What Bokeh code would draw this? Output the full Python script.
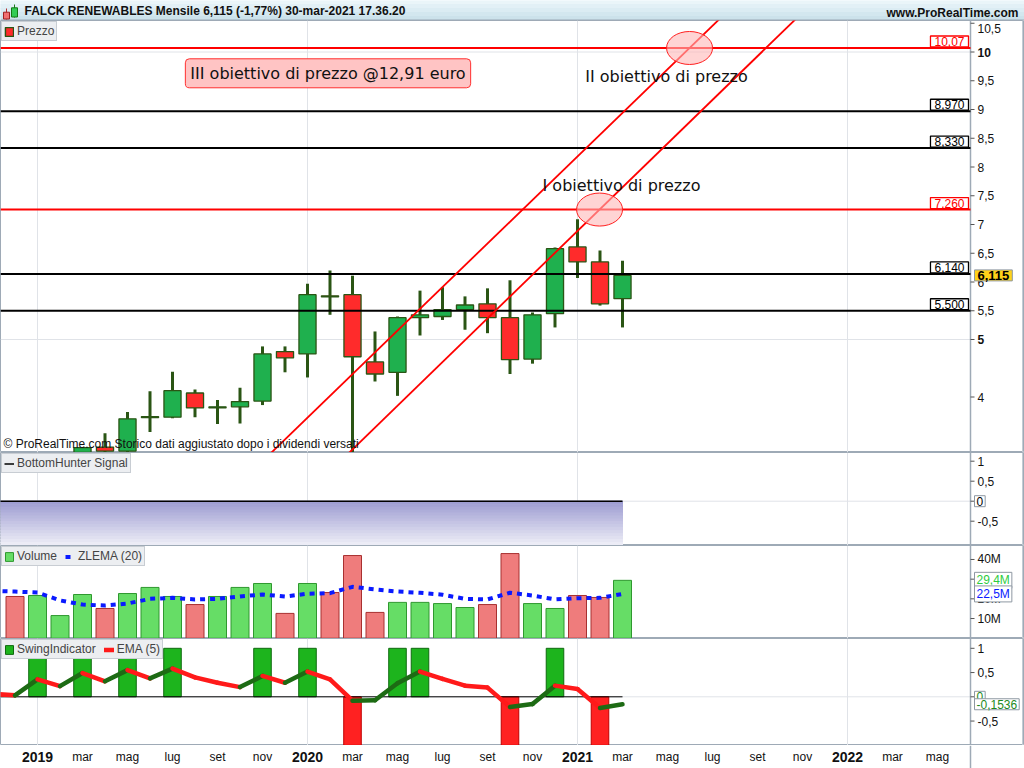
import numpy as np
from bokeh.plotting import figure
from bokeh.layouts import column
from bokeh.models import Range1d, FixedTicker, Label, Legend, LegendItem, Grid
from bokeh.embed import file_html
from bokeh.resources import INLINE
from bokeh.core.properties import value

nan = float("nan")

# ---------------------------------------------------------------- data
# monthly bars; month index 0 = gen 2019, first bar = dic 2018
months = list(range(-1, 27))

price_open = [nan, nan, nan, 3.00, 3.13, 3.06, 3.64, 3.65, 4.07, 3.81, 3.83, 3.93, 4.79, 4.75,
              5.76, 5.78, 4.61, 4.43, 5.38, 5.40, 5.52, 5.62, 5.38, 4.66, 5.45, 6.61, 6.35, 5.71]
price_high = [nan, nan, nan, 3.13, 3.37, 3.74, 4.10, 4.44, 4.13, 3.95, 4.16, 4.88, 4.88, 5.97,
              6.20, 6.11, 5.14, 5.40, 5.85, 5.91, 5.75, 5.89, 6.03, 5.47, 6.60, 7.09, 6.55, 6.37]
price_low = [nan, nan, nan, 2.95, 2.98, 3.00, 3.39, 3.63, 3.65, 3.53, 3.54, 3.86, 4.43, 4.34,
             5.43, 3.02, 4.27, 4.02, 5.07, 5.34, 5.17, 5.11, 4.40, 4.58, 5.21, 6.07, 5.59, 5.21]
price_close = [nan, nan, nan, 3.12, 3.06, 3.62, 3.66, 4.11, 3.81, 3.83, 3.92, 4.75, 4.68, 5.78,
               5.74, 4.70, 4.40, 5.38, 5.43, 5.52, 5.60, 5.38, 4.65, 5.43, 6.58, 6.35, 5.62, 6.115]

volume_m = [21.2, 21.7, 11.5, 22.2, 15.1, 22.7, 25.8, 21.2, 17.1, 21.2, 25.8, 27.8, 12.6, 27.8,
            23.2, 42.0, 13.1, 18.2, 18.2, 17.6, 15.6, 17.1, 43.0, 17.6, 15.1, 21.7, 20.7, 29.4]
volume_dir = ["d", "u", "u", "u", "d", "u", "u", "u", "d", "u", "u", "u", "d", "u",
              "d", "d", "d", "u", "u", "u", "u", "d", "d", "u", "u", "d", "d", "u"]

swing = [0, 1, 0, 1, 0, 1, 0, 1, 0, 0, 0, 1, 0, 1,
         0, -1, 0, 1, 1, 0, 0, 0, -1, 0, 1, 0, -1, 0]

# indicator lines start one month earlier (nov 2018)
ind_months = list(range(-2, 27))
zlema_m = [24.0, 23.7, 23.2, 19.2, 17.1, 16.6, 17.6, 20.0, 20.5, 19.7, 20.0, 21.2, 22.2, 21.2, 22.6,
           22.9, 26.1, 24.8, 23.7, 23.1, 22.1, 20.0, 19.7, 23.1, 21.7, 19.7, 20.3, 20.5, 22.5]
ema5 = [0.06, 0.03, 0.36, 0.22, 0.49, 0.32, 0.55, 0.38, 0.58, 0.40, 0.29, 0.20, 0.43, 0.29, 0.52,
        0.36, -0.08, -0.07, 0.28, 0.52, 0.37, 0.23, 0.19, -0.21, -0.15, 0.23, 0.16, -0.23, -0.1536]
bottomhunter = [0, 0, 0, 0, 0, 0, 0, 0, 0, 0, 0, 0, 0, 0, 0,
                0, 0, 0, 0, 0, 0, 0, 0, 0, 0, 0, 0, 0, 0]

levels = [10.07, 8.97, 8.33, 7.26, 6.14, 5.50]
level_text = ["10,07", "8,970", "8,330", "7,260", "6,140", "5,500"]
level_color = ["#ff0000", "#000000", "#000000", "#ff0000", "#000000", "#000000"]

# trend channel: two points on each line (month, price)
trend_upper = ([10.44, 28.98], [3.05, 10.07])
trend_lower = ([13.90, 24.98], [3.05, 7.26])
targets_m = [24.98, 28.98]
targets_p = [7.26, 10.07]

x_tick_months = list(range(0, 41, 2))
x_tick_names = ["2019", "mar", "mag", "lug", "set", "nov",
                "2020", "mar", "mag", "lug", "set", "nov",
                "2021", "mar", "mag", "lug", "set", "nov",
                "2022", "mar", "mag"]

# ---------------------------------------------------------------- layout helpers
PX_MONTH = 22.5
X_START = -37 / PX_MONTH


def xpx(px):
    """x position (in months) of a horizontal pixel offset from the left edge"""
    return X_START + px / PX_MONTH


XA = xpx(970)            # price-scale axis line
xr = Range1d(X_START, xpx(1024))

FRAME = "#9eaab6"
GRID = "#e0e3e8"
UI_FONT = "Liberation Sans"


def panel(height, y0, y1, ticks, labels, ygrid, bold=(), label_y=None):
    f = figure(width=1024, height=height, x_range=xr, y_range=Range1d(y0, y1),
               output_backend="svg", toolbar_location=None,
               x_axis_type=None, y_axis_type=None, min_border=0)
    f.outline_line_color = FRAME
    f.outline_line_width = 1
    f.border_fill_color = "white"
    f.background_fill_color = "white"
    f.add_layout(Grid(dimension=0, ticker=FixedTicker(ticks=[0, 12, 24, 36]),
                      grid_line_color=GRID))
    if ygrid:
        f.segment(x0=X_START, x1=XA, y0=ygrid, y1=ygrid, line_color=GRID, line_width=1)
    # price scale on the right
    f.segment(x0=XA, y0=y0, x1=XA, y1=y1, line_color=FRAME, line_width=1.5)
    f.segment(x0=xpx(1022), y0=y0, x1=xpx(1022), y1=y1, line_color="#c3cbd3", line_width=1)
    f.segment(x0=XA, x1=xpx(974), y0=ticks, y1=ticks, line_color="#555555", line_width=1)
    f.text(x=xpx(977), y=label_y if label_y is not None else ticks, text=labels,
           text_font=value(UI_FONT), text_font_size="12px", text_baseline="middle",
           text_align="left", text_color="#111111",
           text_font_style=["bold" if t in bold else "normal" for t in ticks])
    return f


def legend(items, fig):
    lg = Legend(items=items, location="top_left", orientation="horizontal")
    lg.margin = 1
    lg.padding = 2
    lg.spacing = 8
    lg.label_text_font = UI_FONT
    lg.label_text_font_size = "12px"
    lg.label_height = 12
    lg.glyph_height = 11
    lg.glyph_width = 10
    lg.label_standoff = 3
    lg.border_line_color = "#a3acb5"
    lg.background_fill_color = "#eceef1"
    lg.background_fill_alpha = 1
    fig.add_layout(lg)


def tag(fig, y, text, color="#000000", fill="white", bold=False, size="12px", pad=(2, 1)):
    fig.add_layout(Label(x=xpx(974), y=y, text=text, text_align="left",
                         text_baseline="middle", text_font=UI_FONT, text_font_size=size,
                         text_color=color, text_font_style="bold" if bold else "normal",
                         background_fill_color=fill, border_line_color="#8e98a2",
                         padding=pad))


# ---------------------------------------------------------------- header
hdr = figure(width=1024, height=20, x_range=Range1d(0, 1024), y_range=Range1d(20, 0),
             output_backend="svg", toolbar_location=None, x_axis_type=None, y_axis_type=None,
             min_border=0)
hdr.outline_line_color = None
hdr.border_fill_color = "white"
bands = np.linspace(0, 20, 6)
band_cols = ["#eaf5f9", "#e2f0f6", "#dbecf3", "#d3e7ef", "#cce2eb"]
hdr.quad(left=0, right=1024, top=bands[:-1], bottom=bands[1:], fill_color=band_cols,
         line_color=band_cols)
hdr.segment(0, 19.5, 1024, 19.5, line_color="#9aa8b4", line_width=1)
hdr.segment([6, 14], [8, 4], [6, 14], [19, 17], line_color=["#b03030", "#1d7a1d"], line_width=1)
hdr.quad(left=[3, 11], right=[9, 17], top=[11.7, 7.3], bottom=[18.5, 16.5],
         fill_color=["#f07070", "#33cc55"], line_color=["#a02020", "#137a13"])
hdr.text(x=[24], y=[10.5], text=["FALCK RENEWABLES Mensile 6,115 (-1,77%) 30-mar-2021 17.36.20"],
         text_font=value(UI_FONT), text_font_style="bold", text_font_size="12px",
         text_baseline="middle", text_color="#111111")
hdr.text(x=[1018], y=[12.5], text=["www.ProRealTime.com"], text_font=value(UI_FONT),
         text_font_style="bold", text_font_size="12px", text_baseline="middle",
         text_align="right", text_color="#111111")

# ---------------------------------------------------------------- price panel
P_Y0, P_Y1 = 3.035, 10.548
p_ticks = [4, 5, 5.5, 6, 6.5, 7, 7.5, 8, 8.5, 9, 9.5, 10, 10.5]
p_labels = ["4", "5", "5,5", "6", "6,5", "7", "7,5", "8", "8,5", "9", "9,5", "10", "10,5"]
p_label_y = p_ticks[:-1] + [p_ticks[-1] - 5 / 57.5]
pp = panel(432, P_Y0, P_Y1, p_ticks, p_labels, [5, 10], bold=(5, 10), label_y=p_label_y)

up = [i for i, (o, c) in enumerate(zip(price_open, price_close)) if c == c and c >= o]
dn = [i for i, (o, c) in enumerate(zip(price_open, price_close)) if c == c and c < o]
WICK = "#2a5514"
pp.segment(x0=months, y0=price_low, x1=months, y1=price_high, line_color=WICK, line_width=3)
r_up = pp.vbar(x=[months[i] for i in up], width=0.76,
               top=[price_close[i] for i in up], bottom=[price_open[i] for i in up],
               fill_color="#1fb04e", line_color=WICK, line_width=1.3)
r_dn = pp.vbar(x=[months[i] for i in dn], width=0.76,
               top=[price_open[i] for i in dn], bottom=[price_close[i] for i in dn],
               fill_color="#ff2b2b", line_color=WICK, line_width=1.3)

pp.segment(x0=X_START, x1=XA, y0=levels, y1=levels, line_color=level_color, line_width=2)

for xs, ys in (trend_upper, trend_lower):
    slope = (ys[1] - ys[0]) / (xs[1] - xs[0])
    ext = [xs[0] - 3, 40]
    pp.line(ext, [ys[0] + slope * (e - xs[0]) for e in ext], line_color="#ff0000", line_width=1.8)

pp.ellipse(x=targets_m, y=targets_p, width=46, height=33, width_units="screen",
           height_units="screen", fill_color="#ffb8b8", fill_alpha=0.6, line_color="#ff2020",
           line_width=1)

for lv, txt, col in zip(levels, level_text, level_color):
    pp.add_layout(Label(x=xpx(968), y=lv, y_offset=1, text=txt, text_align="right",
                        text_baseline="bottom", text_font=UI_FONT, text_font_size="12px",
                        text_color=col, background_fill_color="white", border_line_color=col,
                        border_line_width=1.3, padding=(4, 1)))

pp.add_layout(Label(x=xpx(621), y=7.68, text="I obiettivo di prezzo",
                    text_align="center", text_baseline="middle", text_font="DejaVu Sans",
                    text_font_size="16px", text_color="#111111"))
pp.add_layout(Label(x=xpx(666), y=9.574, text="II obiettivo di prezzo",
                    text_align="center", text_baseline="middle", text_font="DejaVu Sans",
                    text_font_size="16px", text_color="#111111"))
pp.add_layout(Label(x=xpx(327.5), y=9.63, text="III obiettivo di prezzo @12,91 euro",
                    text_align="center", text_baseline="middle", text_font="DejaVu Sans",
                    text_font_size="16px", text_color="#111111",
                    background_fill_color="#ffc4c4", border_line_color="#ff3030",
                    border_radius=4, padding=(5, 5)))
pp.add_layout(Label(x=xpx(3), y=P_Y0 + 2 / 57.5,
                    text="\u00a9 ProRealTime.com  Storico dati aggiustato dopo i dividendi versati",
                    text_align="left", text_baseline="bottom", text_font=UI_FONT,
                    text_font_size="12px", text_color="#111111"))
tag(pp, price_close[-1], "6,115", fill="#ffd21a", bold=True, size="13px", pad=(3, 1))
legend([LegendItem(label="Prezzo", renderers=[r_up, r_dn])], pp)

# ---------------------------------------------------------------- BottomHunter panel
B_Y0, B_Y1 = -1.1075, 1.2175
bh = panel(93, B_Y0, B_Y1, [-0.5, 0, 0.5, 1], ["-0,5", "0", "0,5", "1"], [0])
edges = np.linspace(0, B_Y0, 16)
c_top, c_bot = np.array([158, 157, 210]), np.array([236, 236, 246])
band_fill = ["#%02x%02x%02x" % tuple(int(v) for v in c_top + (c_bot - c_top) * i / 14)
             for i in range(15)]
bh.quad(left=ind_months[0], right=ind_months[-1], top=edges[:-1], bottom=edges[1:],
        fill_color=band_fill, line_color=band_fill, line_width=1)
r_bh = bh.line(ind_months, bottomhunter, line_color="black", line_width=1.5)
tag(bh, 0, "0")
legend([LegendItem(label="BottomHunter Signal", renderers=[r_bh])], bh)

# ---------------------------------------------------------------- Volume panel
V_Y0, V_Y1 = -0.15, 47.1
vp = panel(93, V_Y0, V_Y1, [10, 20, 30, 40], ["10M", "20M", "30M", "40M"], [])
vu = [i for i, d in enumerate(volume_dir) if d == "u"]
vd = [i for i, d in enumerate(volume_dir) if d == "d"]
r_vu = vp.vbar(x=[months[i] for i in vu], top=[volume_m[i] for i in vu], width=0.8,
               fill_color="#66dd66", line_color="#2f982f", line_width=1)
r_vd = vp.vbar(x=[months[i] for i in vd], top=[volume_m[i] for i in vd], width=0.8,
               fill_color="#ef7c7c", line_color="#a83030", line_width=1)
r_z = vp.line(ind_months, zlema_m, line_color="#0a1aff", line_width=4, line_dash="5 5")
tag(vp, volume_m[-1], "29,4M", color="#2ecc40")
tag(vp, zlema_m[-1], "22,5M", color="#0a1aff")
legend([LegendItem(label="Volume", renderers=[r_vu]),
        LegendItem(label="ZLEMA (20)", renderers=[r_z])], vp)

# ---------------------------------------------------------------- Swing panel
S_Y0, S_Y1 = -1.004, 1.202
sp = panel(107, S_Y0, S_Y1, [-0.5, 0, 0.5, 1], ["-0,5", "0", "0,5", "1"], [0])
su = [i for i, s in enumerate(swing) if s > 0]
sd = [i for i, s in enumerate(swing) if s < 0]
r_su = sp.vbar(x=[months[i] for i in su], top=[swing[i] for i in su], bottom=0, width=0.78,
               fill_color="#1db41d", line_color="#0f6a0f", line_width=1)
sp.vbar(x=[months[i] for i in sd], top=0, bottom=[swing[i] for i in sd], width=0.78,
        fill_color="#ff2121", line_color="#c00000", line_width=1)
sp.segment(x0=X_START, y0=0, x1=months[-1], y1=0, line_color="black", line_width=1)
ema_cols = ["#1d6b14" if b >= a else "#ff1a1a" for a, b in zip(ema5[:-1], ema5[1:])]
r_e = sp.segment(x0=ind_months[:-1], y0=ema5[:-1], x1=ind_months[1:], y1=ema5[1:],
                 line_color=ema_cols, line_width=4.5, line_cap="round")
tag(sp, 0, "0", color="#1d8a1d")
tag(sp, ema5[-1], "-0,1536", color="#1d8a1d")
legend([LegendItem(label="SwingIndicator", renderers=[r_su]),
        LegendItem(label="EMA (5)", renderers=[r_e])], sp)

# ---------------------------------------------------------------- time axis strip
xa = figure(width=1024, height=23, x_range=xr, y_range=Range1d(0, 1), output_backend="svg",
            toolbar_location=None, x_axis_type=None, y_axis_type=None, min_border=0)
xa.outline_line_color = None
xa.border_fill_color = "white"
xa.segment(x0=XA, y0=0, x1=XA, y1=1, line_color=FRAME, line_width=1.5)
yrs = [i for i, n in enumerate(x_tick_names) if n.isdigit()]
mos = [i for i, n in enumerate(x_tick_names) if not n.isdigit()]
xa.text(x=[x_tick_months[i] for i in yrs], y=0.48, text=[x_tick_names[i] for i in yrs],
        text_font=value(UI_FONT), text_font_style="bold", text_font_size="14px",
        text_align="center", text_baseline="middle", text_color="#111111")
xa.text(x=[x_tick_months[i] for i in mos], y=0.48, text=[x_tick_names[i] for i in mos],
        text_font=value(UI_FONT), text_font_size="12px",
        text_align="center", text_baseline="middle", text_color="#111111")

layout = column(hdr, pp, bh, vp, sp, xa, spacing=0)
open("out.html", "w").write(file_html(layout, INLINE))
